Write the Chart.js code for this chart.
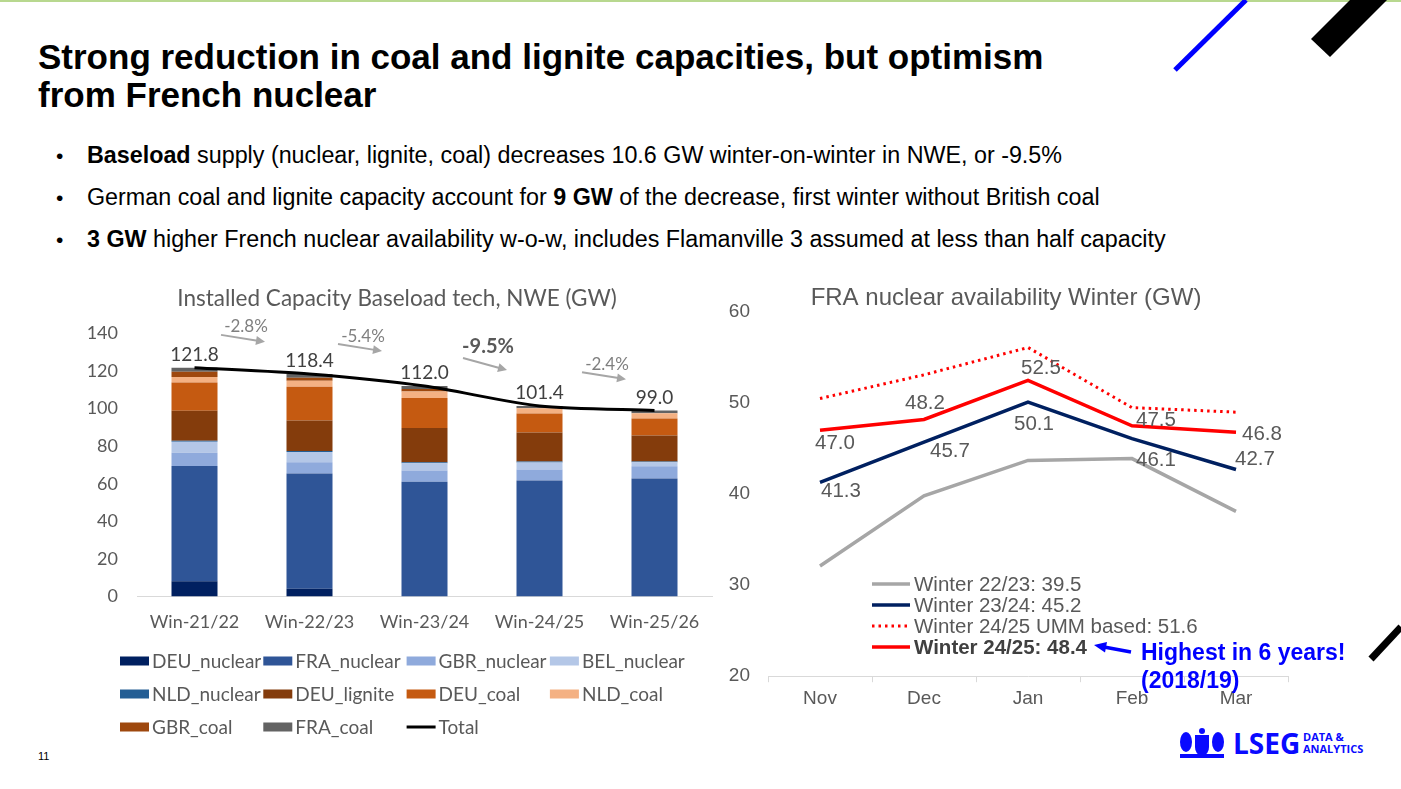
<!DOCTYPE html>
<html>
<head>
<meta charset="utf-8">
<title>Baseload capacity NWE</title>
<script src="https://cdn.jsdelivr.net/npm/chart.js@4.4.1/dist/chart.umd.min.js"></script>
<style>
  body { margin: 0; background: #fff; }
  #page { position: relative; width: 1401px; height: 789px; overflow: hidden; font-family: "Liberation Sans", Arial, sans-serif; color: #000; }
  .topline { position: absolute; left: 0; top: 0; width: 1401px; height: 2px; background: #b8d88f; }
  h1 { position: absolute; left: 38px; top: 38px; margin: 0; font-size: 35px; line-height: 38px; font-weight: bold; }
  .bullet { position: absolute; left: 56px; font-size: 23.3px; line-height: 26px; white-space: nowrap; }
  .bullet .dot { display: inline-block; width: 31px; font-size: 21px; }
  #leftWrap { position: absolute; left: 60px; top: 280px; width: 670px; height: 480px; }
  #rightWrap { position: absolute; left: 724px; top: 280px; width: 596px; height: 440px; }
  .note { position: absolute; left: 1141px; top: 638px; color: #0000ff; font-weight: bold; font-size: 23px; line-height: 28px; white-space: nowrap; }
  .pageno { position: absolute; left: 38px; top: 750px; font-size: 11px; }
  .lseg { position: absolute; left: 1233px; top: 727px; color: #0a0aff; font-weight: bold; font-size: 28px; line-height: 32px; font-family: "Open Sans", sans-serif; }
  .lseg small { position: absolute; left: 70px; top: 4px; font-size: 11px; line-height: 12px; white-space: nowrap; }
  svg.deco { position: absolute; left: 0; top: 0; pointer-events: none; }
</style>
</head>
<body>
<div id="page">
  <div class="topline"></div>
  <h1>Strong reduction in coal and lignite capacities, but optimism<br>from French nuclear</h1>
  <div class="bullet" style="top:142px"><span class="dot">•</span><b>Baseload</b> supply (nuclear, lignite, coal) decreases 10.6 GW winter-on-winter in NWE, or -9.5%</div>
  <div class="bullet" style="top:184px"><span class="dot">•</span>German coal and lignite capacity account for <b>9 GW</b> of the decrease, first winter without British coal</div>
  <div class="bullet" style="top:226px"><span class="dot">•</span><b>3 GW</b> higher French nuclear availability w-o-w, includes Flamanville 3 assumed at less than half capacity</div>

  <div id="leftWrap"><canvas id="leftChart" width="670" height="480"></canvas></div>
  <div id="rightWrap"><canvas id="rightChart" width="596" height="440"></canvas></div>

  <div class="note">Highest in 6 years!<br>(2018/19)</div>
  <div class="pageno">11</div>
  <div class="lseg">LSEG<small>DATA &amp;<br>ANALYTICS</small></div>

  <svg class="deco" width="1401" height="789">
    <line x1="1175" y1="70" x2="1246" y2="0" stroke="#0000ff" stroke-width="5"/>
    <polygon points="1311,39 1330,57 1387,0 1350,0" fill="#000"/>
    <line x1="1371" y1="659" x2="1401" y2="627" stroke="#000" stroke-width="7"/>
    <line x1="1131" y1="652" x2="1104" y2="647" stroke="#0000ff" stroke-width="3.5"/>
    <polygon points="1094,645 1107,642 1105,652.5" fill="#0000ff"/>
    <g fill="#0a0aff">
      <path d="M1195,735 h14 v12 q0,7 -7,10 q-7,-3 -7,-10 z"/>
      <ellipse cx="1186" cy="742" rx="6" ry="10"/>
      <ellipse cx="1218" cy="742" rx="6" ry="10"/>
      <rect x="1180" y="754" width="44" height="4"/>
      <circle cx="1202" cy="731" r="3"/>
    </g>
  </svg>
</div>

<script>
// ---- left chart data: installed baseload capacity, NWE (GW)
const winters = ['Win-21/22', 'Win-22/23', 'Win-23/24', 'Win-24/25', 'Win-25/26'];
const deuNuclear = [8.1, 4.1, 0, 0, 0];
const fraNuclear = [61.4, 61.4, 61.0, 61.7, 62.8];
const gbrNuclear = [7.0, 6.0, 6.1, 5.9, 6.5];
const belNuclear = [5.9, 5.4, 3.8, 3.7, 2.1];
const nldNuclear = [0.5, 0.5, 0.5, 0.5, 0.5];
const deuLignite = [16.0, 16.3, 18.3, 15.5, 13.8];
const deuCoal = [15.0, 18.0, 16.0, 10.1, 9.0];
const nldCoal = [3.0, 3.2, 3.4, 2.8, 2.8];
const gbrCoal = [2.7, 1.5, 1.4, 0, 0];
const fraCoal = [2.2, 2.0, 1.5, 1.2, 1.5];
const totals = [121.8, 118.4, 112.0, 101.4, 99.0];
const capTicks = [0, 140, 20];

// ---- right chart data: FRA nuclear availability (GW)
const months = ['Nov', 'Dec', 'Jan', 'Feb', 'Mar'];
const winter2223 = [32.1, 39.8, 43.7, 43.9, 38.1];
const winter2324 = [41.3, 45.7, 50.1, 46.1, 42.7];
const winter2425Umm = [50.5, 53.1, 56.1, 49.5, 49.0];
const winter2425 = [47.0, 48.2, 52.5, 47.5, 46.8];
const availTicks = [20, 60, 10];

const avg = arr => (arr.reduce((a, b) => a + b, 0) / arr.length).toFixed(1);

const GREY_TXT = '#595959';

// step change arrows between bars, the big one is in bold
const bigStep = 2;
const stepDx = [-6, -4, 6, 10];

const leftOverlay = {
  id: 'leftOverlay',
  afterDatasetsDraw(chart) {
    const { ctx } = chart;
    const x = chart.scales.x, y = chart.scales.y;
    ctx.save();
    ctx.textAlign = 'center';
    ctx.textBaseline = 'middle';

    // totals above bars
    ctx.fillStyle = '#404040';
    ctx.font = '19px Lato';
    totals.forEach((t, i) => {
      ctx.fillText(t.toFixed(1), x.getPixelForValue(i), y.getPixelForValue(t) - 13);
    });

    // w-o-w change labels with little arrows
    for (let i = 0; i < totals.length - 1; i++) {
      const pct = (totals[i + 1] - totals[i]) / totals[i] * 100;
      const mid = (x.getPixelForValue(i) + x.getPixelForValue(i + 1)) / 2 + stepDx[i];
      const big = i === bigStep;
      const ty = y.getPixelForValue((totals[i] + totals[i + 1]) / 2) - (big ? 49 : 44);
      ctx.fillStyle = big ? GREY_TXT : '#7f7f7f';
      ctx.font = big ? 'bold 20px Lato' : '17px Lato';
      ctx.fillText(pct.toFixed(1) + '%', mid, ty);

      const x0 = mid - 25, y0 = ty + (big ? 11 : 8);
      const x1 = mid + 19, y1 = ty + (big ? 23 : 15);
      const ang = Math.atan2(y1 - y0, x1 - x0);
      ctx.strokeStyle = '#a6a6a6';
      ctx.fillStyle = '#a6a6a6';
      ctx.lineWidth = 2;
      ctx.beginPath();
      ctx.moveTo(x0, y0);
      ctx.lineTo(x1 - 6 * Math.cos(ang), y1 - 6 * Math.sin(ang));
      ctx.stroke();
      ctx.beginPath();
      ctx.moveTo(x1, y1);
      ctx.lineTo(x1 - 9 * Math.cos(ang) + 4.5 * Math.sin(ang), y1 - 9 * Math.sin(ang) - 4.5 * Math.cos(ang));
      ctx.lineTo(x1 - 9 * Math.cos(ang) - 4.5 * Math.sin(ang), y1 - 9 * Math.sin(ang) + 4.5 * Math.cos(ang));
      ctx.closePath();
      ctx.fill();
    }

    // legend grid, 4 per row
    ctx.textAlign = 'left';
    ctx.font = '19px Lato';
    chart.data.datasets.forEach((ds, k) => {
      const cx = 60 + (k % 4) * 143.3;
      const cy = 381 + Math.floor(k / 4) * 33;
      if (ds.type === 'line') {
        ctx.strokeStyle = ds.borderColor;
        ctx.lineWidth = 3;
        ctx.beginPath();
        ctx.moveTo(cx, cy);
        ctx.lineTo(cx + 29, cy);
        ctx.stroke();
      } else {
        ctx.fillStyle = ds.backgroundColor;
        ctx.fillRect(cx, cy - 4.5, 29, 9);
      }
      ctx.fillStyle = GREY_TXT;
      ctx.fillText(ds.label, cx + 32, cy + 1);
    });
    ctx.restore();
  }
};

function barSet(label, data, color) {
  return { type: 'bar', label, data, backgroundColor: color, borderWidth: 0, order: 1,
           barPercentage: 0.4, categoryPercentage: 1.0 };
}

new Chart(document.getElementById('leftChart'), {
  data: {
    labels: winters,
    datasets: [
      barSet('DEU_nuclear', deuNuclear, '#002060'),
      barSet('FRA_nuclear', fraNuclear, '#2f5597'),
      barSet('GBR_nuclear', gbrNuclear, '#8faadc'),
      barSet('BEL_nuclear', belNuclear, '#b4c7e7'),
      barSet('NLD_nuclear', nldNuclear, '#245e94'),
      barSet('DEU_lignite', deuLignite, '#843c0c'),
      barSet('DEU_coal', deuCoal, '#c55a11'),
      barSet('NLD_coal', nldCoal, '#f4b183'),
      barSet('GBR_coal', gbrCoal, '#9e480e'),
      barSet('FRA_coal', fraCoal, '#636363'),
      { type: 'line', label: 'Total', data: totals, borderColor: '#000', borderWidth: 3,
        pointRadius: 0, tension: 0.25, stack: 'total', order: 0 }
    ]
  },
  options: {
    responsive: false,
    animation: false,
    layout: { padding: { left: 22, right: 18, top: 0, bottom: 112 } },
    plugins: {
      legend: { display: false },
      tooltip: { enabled: false },
      title: {
        display: true,
        text: 'Installed Capacity Baseload tech, NWE (GW)',
        color: GREY_TXT,
        font: { family: 'Lato', size: 22.5, weight: 'normal', lineHeight: 1.0 },
        padding: { top: 7, bottom: 24 }
      }
    },
    scales: {
      x: {
        stacked: true,
        grid: { display: false, drawTicks: false },
        border: { color: '#d9d9d9' },
        ticks: { color: GREY_TXT, font: { family: 'Lato', size: 18 }, padding: 15 }
      },
      y: {
        stacked: true,
        min: capTicks[0], max: capTicks[1],
        grid: { display: false, drawTicks: false },
        border: { display: false },
        ticks: { stepSize: capTicks[2], color: GREY_TXT, font: { family: 'Lato', size: 18 }, padding: 19 },
        afterFit(s) { s.width = 55; }
      }
    }
  },
  plugins: [leftOverlay]
});

// ---- right chart
const redLabelOffsets = [[15, 13], [1, -16], [13, -12], [24, -5], [26, 2]];
const navyLabelOffsets = [[21, 9], [26, 9], [6, 22], [24, 22], [19, -10]];

const rightOverlay = {
  id: 'rightOverlay',
  afterDatasetsDraw(chart) {
    const { ctx, chartArea } = chart;
    const x = chart.scales.x, y = chart.scales.y;
    ctx.save();
    ctx.textAlign = 'center';
    ctx.textBaseline = 'middle';
    ctx.font = '20.5px "Liberation Sans"';
    ctx.fillStyle = GREY_TXT;
    winter2425.forEach((v, i) => {
      ctx.fillText(v.toFixed(1), x.getPixelForValue(i) + redLabelOffsets[i][0], y.getPixelForValue(v) + redLabelOffsets[i][1]);
    });
    winter2324.forEach((v, i) => {
      ctx.fillText(v.toFixed(1), x.getPixelForValue(i) + navyLabelOffsets[i][0], y.getPixelForValue(v) + navyLabelOffsets[i][1]);
    });

    // legend inside the plot
    ctx.textAlign = 'left';
    chart.data.datasets.forEach((ds, k) => {
      const cy = chartArea.top + 272 + k * 21;
      const lx = chartArea.left + 104;
      ctx.strokeStyle = ds.borderColor;
      ctx.lineWidth = ds.borderWidth;
      ctx.setLineDash(ds.borderDash || []);
      ctx.beginPath();
      ctx.moveTo(lx, cy);
      ctx.lineTo(lx + 38, cy);
      ctx.stroke();
      ctx.setLineDash([]);
      const bold = k === chart.data.datasets.length - 1;
      ctx.font = (bold ? 'bold ' : '') + '20.5px "Liberation Sans"';
      ctx.fillStyle = bold ? '#404040' : GREY_TXT;
      ctx.fillText(ds.label, lx + 42, cy + 1);
    });
    ctx.restore();
  }
};

new Chart(document.getElementById('rightChart'), {
  type: 'line',
  data: {
    labels: months,
    datasets: [
      { label: 'Winter 22/23: ' + avg(winter2223), data: winter2223, borderColor: '#a6a6a6', borderWidth: 3.5, order: 3 },
      { label: 'Winter 23/24: ' + avg(winter2324), data: winter2324, borderColor: '#002060', borderWidth: 3.5, order: 2 },
      { label: 'Winter 24/25 UMM based: ' + avg(winter2425Umm), data: winter2425Umm, borderColor: '#ff0000', borderWidth: 3, borderDash: [2.5, 4], order: 1 },
      { label: 'Winter 24/25: ' + avg(winter2425), data: winter2425, borderColor: '#ff0000', borderWidth: 3.5, order: 0 }
    ]
  },
  options: {
    responsive: false,
    animation: false,
    elements: { point: { radius: 0 }, line: { tension: 0 } },
    layout: { padding: { left: 0, right: 32, top: 0, bottom: 5 } },
    plugins: {
      legend: { display: false },
      tooltip: { enabled: false },
      title: {
        display: true,
        text: 'FRA nuclear availability Winter (GW)',
        color: GREY_TXT,
        font: { family: 'Liberation Sans', size: 24, weight: 'normal', lineHeight: 1.0 },
        padding: { top: 6, bottom: 2 }
      }
    },
    scales: {
      x: {
        offset: true,
        grid: { display: true, offset: true, drawOnChartArea: false, drawTicks: true, tickLength: 6, color: '#d9d9d9' },
        border: { color: '#d9d9d9' },
        ticks: { color: GREY_TXT, font: { family: 'Liberation Sans', size: 19 }, padding: 5 }
      },
      y: {
        min: availTicks[0], max: availTicks[1],
        grid: { display: false, drawTicks: false },
        border: { display: false },
        ticks: { stepSize: availTicks[2], color: GREY_TXT, font: { family: 'Liberation Sans', size: 19 }, padding: 18 },
        afterFit(s) { s.width = 44; }
      }
    }
  },
  plugins: [rightOverlay]
});
</script>
</body>
</html>
